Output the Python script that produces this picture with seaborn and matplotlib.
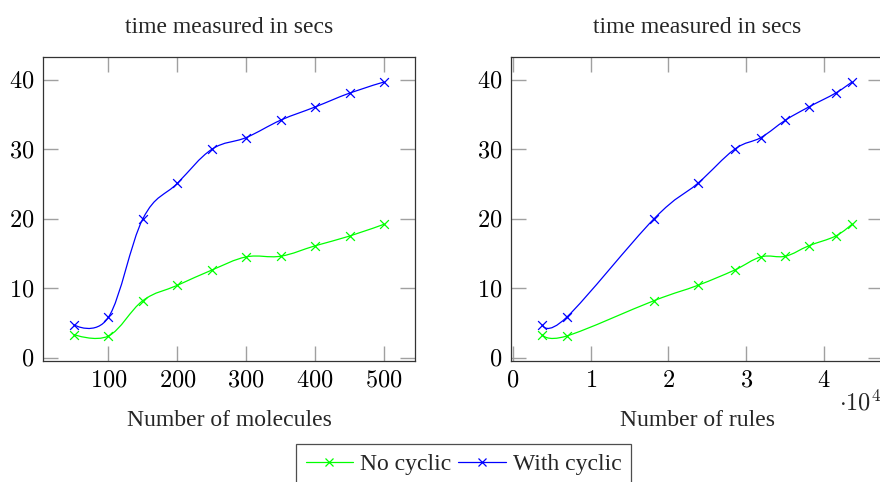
import numpy as np
import pandas as pd
import matplotlib
matplotlib.use("Agg")
import matplotlib.pyplot as plt
from matplotlib.path import Path
from matplotlib.patches import PathPatch
from matplotlib.lines import Line2D
import seaborn as sns

# ---- data ----
molecules = [50, 100, 150, 200, 250, 300, 350, 400, 450, 500]
rules = [3770, 6900, 18150, 23770, 28500, 31900, 35050, 38050, 41500, 43600]
no_cyclic = [3.3, 3.1, 8.2, 10.4, 12.6, 14.5, 14.6, 16.1, 17.5, 19.2]
with_cyclic = [4.7, 5.8, 20.0, 25.1, 30.0, 31.7, 34.2, 36.1, 38.1, 39.7]
series_names = ["No cyclic", "With cyclic"]
series_colors = ["#00ff00", "#0000ff"]
yticks = [0, 10, 20, 30, 40]
left_xticks = [100, 200, 300, 400, 500]
right_xticks = [0, 10000, 20000, 30000, 40000]
title_text = "time measured in secs"
left_xlabel = "Number of molecules"
right_xlabel = "Number of rules"

sns.set_theme(style="ticks")
plt.rcParams["font.family"] = ["Liberation Serif", "DejaVu Serif"]
plt.rcParams["mathtext.fontset"] = "cm"

W, H = 880, 482
fig = plt.figure(figsize=(W / 100, H / 100), dpi=100)

TXT = 17
NUM = 17.5


def ax_rect(x0, y0, x1, y1):
    return [x0 / W, 1 - y1 / H, (x1 - x0) / W, (y1 - y0) / H]


def smooth_path(xs, ys, tension=0.55):
    f = 0.3333 * tension
    p = np.column_stack([xs, ys]).astype(float)
    n = len(p)
    verts = [p[0]]
    codes = [Path.MOVETO]
    for i in range(n - 1):
        if i == 0:
            c1 = p[0]
        else:
            c1 = p[i] + f * (p[i + 1] - p[i - 1])
        if i + 1 == n - 1:
            c2 = p[i + 1]
        else:
            c2 = p[i + 1] - f * (p[i + 2] - p[i])
        verts += [c1, c2, p[i + 1]]
        codes += [Path.CURVE4] * 3
    return Path(verts, codes)


def draw_panel(ax, xs, xlim, xticks, xfmt, xlabel):
    for ys, col, name in zip([no_cyclic, with_cyclic], series_colors, series_names):
        patch = PathPatch(smooth_path(xs, ys), facecolor="none", edgecolor=col, lw=0.9)
        ax.add_patch(patch)
        df = pd.DataFrame({"x": xs, "y": ys})
        sns.scatterplot(data=df, x="x", y="y", ax=ax, marker="x", color=col,
                        s=40, linewidth=0.9, legend=False, zorder=3)
    ax.set_xlim(*xlim)
    ax.set_ylim(-0.5, 43.3)
    ax.set_yticks(yticks)
    ax.set_yticklabels([f"${v}$" for v in yticks])
    ax.set_xticks(xticks)
    ax.set_xticklabels([xfmt(v) for v in xticks])
    ax.tick_params(direction="in", length=11, width=1, color="#a0a0a0",
                   labelsize=NUM, labelcolor="black", top=True, right=True, pad=7)
    ax.tick_params(axis="y", pad=6)
    for s in ax.spines.values():
        s.set_color("#333333")
        s.set_linewidth(0.9)
    ax.set_title(title_text, fontsize=TXT, pad=17)
    ax.set_xlabel(xlabel, fontsize=TXT)
    ax.set_ylabel("")
    ax.xaxis.set_label_coords(0.5, -0.16)


axL = fig.add_axes(ax_rect(43, 57, 415, 361))
draw_panel(axL, molecules, (5, 545), left_xticks, lambda v: f"${v}$", left_xlabel)

axR = fig.add_axes(ax_rect(511, 57, 883, 361))
draw_panel(axR, rules, (-260, 47600), right_xticks, lambda v: f"${int(v/10000)}$", right_xlabel)

fig.text(839 / W, 1 - 410 / H, r"$\cdot 10^{4}$", fontsize=NUM, ha="left", va="baseline")

handles = [Line2D([], [], color=c, marker="x", markersize=6, lw=0.9, mew=0.9)
           for c in series_colors]
leg = fig.legend(handles, series_names, loc="upper center", ncol=2,
                 bbox_to_anchor=(463.5 / W, 1 - 444 / H), fontsize=TXT,
                 frameon=True, fancybox=False, handlelength=2.0, handletextpad=0.3,
                 columnspacing=0.3, borderpad=0.4, borderaxespad=0)
leg.get_frame().set_edgecolor("#222222")
leg.get_frame().set_linewidth(0.9)

fig.savefig("out.png", dpi=100)
